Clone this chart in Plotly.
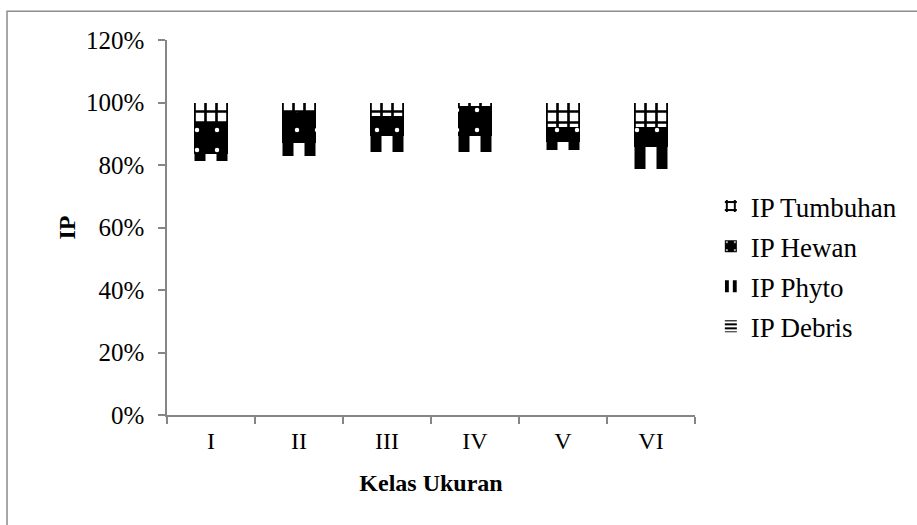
import plotly.graph_objects as go

# Size classes and feeding-index shares (%) per food group
kelas = ["I", "II", "III", "IV", "V", "VI"]
ip_debris = [81.3, 83.0, 84.3, 84.3, 84.9, 78.7]
ip_phyto = [2.2, 4.0, 5.1, 5.1, 2.6, 7.0]
ip_hewan = [10.2, 10.1, 6.3, 9.5, 4.6, 6.6]
ip_tumbuhan = [6.3, 2.9, 4.3, 1.1, 7.9, 7.7]

y_ticks = [0, 20, 40, 60, 80, 100, 120]
y_tick_text = [f"{v}%" for v in y_ticks]

SERIF = "Liberation Serif"
AXIS_GREY = "#868686"


def patterned(shape, fg, bg, size, solidity):
    return dict(color=bg, line=dict(width=0),
                pattern=dict(shape=shape, fgcolor=fg, bgcolor=bg, fgopacity=1,
                             size=size, solidity=solidity, fillmode="overlay"))


fig = go.Figure()

# Debris forms the base of each stack; its fill is left empty
fig.add_trace(go.Bar(
    x=kelas, y=ip_debris, name="IP Debris", showlegend=False,
    marker=dict(color="rgba(0,0,0,0)", line=dict(width=0)),
    hoverinfo="skip",
))
# Legend entry for debris, showing its stripe pattern
fig.add_trace(go.Bar(
    x=[None], y=[None], name="IP Debris", legendgroup="debris", legendrank=4,
    marker=patterned("-", "black", "white", 5, 0.5),
))
fig.add_trace(go.Bar(
    x=kelas, y=ip_phyto, name="IP Phyto", legendgroup="phyto", legendrank=3,
    marker=patterned("|", "black", "white", 22, 0.5),
))
fig.add_trace(go.Bar(
    x=kelas, y=ip_hewan, name="IP Hewan", legendgroup="hewan", legendrank=2,
    marker=patterned(".", "white", "black", 20, 0.04),
))
fig.add_trace(go.Bar(
    x=kelas, y=ip_tumbuhan, name="IP Tumbuhan", legendgroup="tumbuhan", legendrank=1,
    marker=patterned("+", "black", "white", 11, 0.42),
))

fig.update_layout(
    width=917, height=525,
    barmode="stack", bargap=0.61,
    plot_bgcolor="white", paper_bgcolor="white",
    margin=dict(l=167, r=222, t=40, b=110),
    font=dict(family=SERIF, size=22, color="black"),
    legend=dict(
        x=1.03, y=0.396, xanchor="left", yanchor="middle",
        font=dict(family=SERIF, size=27, color="black"),
        tracegroupgap=2, itemwidth=30,
        bgcolor="rgba(0,0,0,0)",
    ),
    shapes=[dict(
        type="rect", xref="paper", yref="paper",
        x0=-0.303, x1=1.6, y0=-0.6, y1=1.077,
        line=dict(color="#8c8c8c", width=1.5), fillcolor="rgba(0,0,0,0)",
        layer="below",
    )],
)

fig.update_xaxes(
    title=dict(text="<b>Kelas Ukuran</b>", font=dict(family=SERIF, size=24), standoff=22),
    showline=True, linecolor=AXIS_GREY, linewidth=1.5,
    ticks="outside", tickson="boundaries", ticklen=7, tickcolor=AXIS_GREY, tickwidth=1.5,
    tickfont=dict(family=SERIF, size=24), ticklabelstandoff=3,
    showgrid=False, zeroline=False,
)
fig.update_yaxes(
    title=dict(text="<b>IP</b>", font=dict(family=SERIF, size=24), standoff=4),
    range=[0, 120], tickmode="array", tickvals=y_ticks, ticktext=y_tick_text,
    showline=True, linecolor=AXIS_GREY, linewidth=1.5,
    ticks="outside", ticklen=7, tickcolor=AXIS_GREY, tickwidth=1.5,
    tickfont=dict(family=SERIF, size=25), ticklabelstandoff=9,
    showgrid=False, zeroline=False,
)

fig.write_html("out.html")
